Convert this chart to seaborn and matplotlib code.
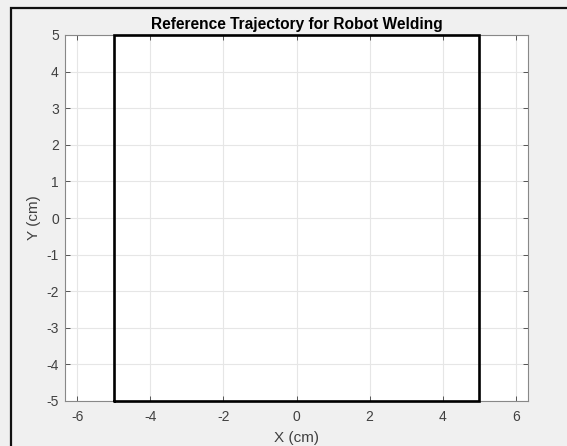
import matplotlib
matplotlib.use("Agg")
import matplotlib.pyplot as plt
import seaborn as sns
import pandas as pd
from matplotlib.patches import Rectangle

# Data
path_x = [-5, 5, 5, -5, -5]
path_y = [-5, -5, 5, 5, -5]
x_ticks = [-6, -4, -2, 0, 2, 4, 6]
y_ticks = [-5, -4, -3, -2, -1, 0, 1, 2, 3, 4, 5]
title = "Reference Trajectory for Robot Welding"
xlabel = "X (cm)"
ylabel = "Y (cm)"

sns.set_theme(style="white")
plt.rcParams['font.family'] = ['Liberation Sans', 'DejaVu Sans']
plt.rcParams['axes.unicode_minus'] = False

fig = plt.figure(figsize=(5.67, 4.46), dpi=100, facecolor="#f0f0f0")
# outer frame (top and left visible)
fig.patches.append(Rectangle((11/567, -0.1), 1.2, (446-8)/446 + 0.1, transform=fig.transFigure,
                             fill=False, edgecolor="#111111", linewidth=1.6, zorder=0))

ax = fig.add_axes([65/567, 45/446, 463/567, 366/446])
ax.set_facecolor("white")

df = pd.DataFrame({"x": path_x, "y": path_y})
sns.lineplot(data=df, x="x", y="y", sort=False, estimator=None, color="black",
             linewidth=1.9, ax=ax, zorder=3)
for ln in ax.get_lines():
    ln.set_clip_on(False)
    ln.set_solid_joinstyle("miter")

ax.set_xlim(-6.33, 6.33)
ax.set_ylim(-5, 5)
ax.set_xticks(x_ticks)
ax.set_yticks(y_ticks)
ax.grid(True, color="#e6e6e6", linewidth=0.8)
ax.set_axisbelow(True)
ax.tick_params(direction="in", length=3.5, width=0.7, colors="#555555", labelcolor="#404040",
               labelsize=10, top=True, right=True, bottom=True, left=True)
ax.tick_params(axis="x", pad=6.5)
ax.tick_params(axis="y", pad=4.5)
for s in ax.spines.values():
    s.set_color("#888888")
    s.set_linewidth(0.8)

ax.set_title(title, fontsize=11.2, fontweight="bold", color="black", pad=4)
ax.set_xlabel(xlabel, fontsize=11, color="#404040", labelpad=5)
ax.set_ylabel(ylabel, fontsize=11, color="#404040", labelpad=3.5)

fig.savefig("out.png", dpi=100, facecolor=fig.get_facecolor())
